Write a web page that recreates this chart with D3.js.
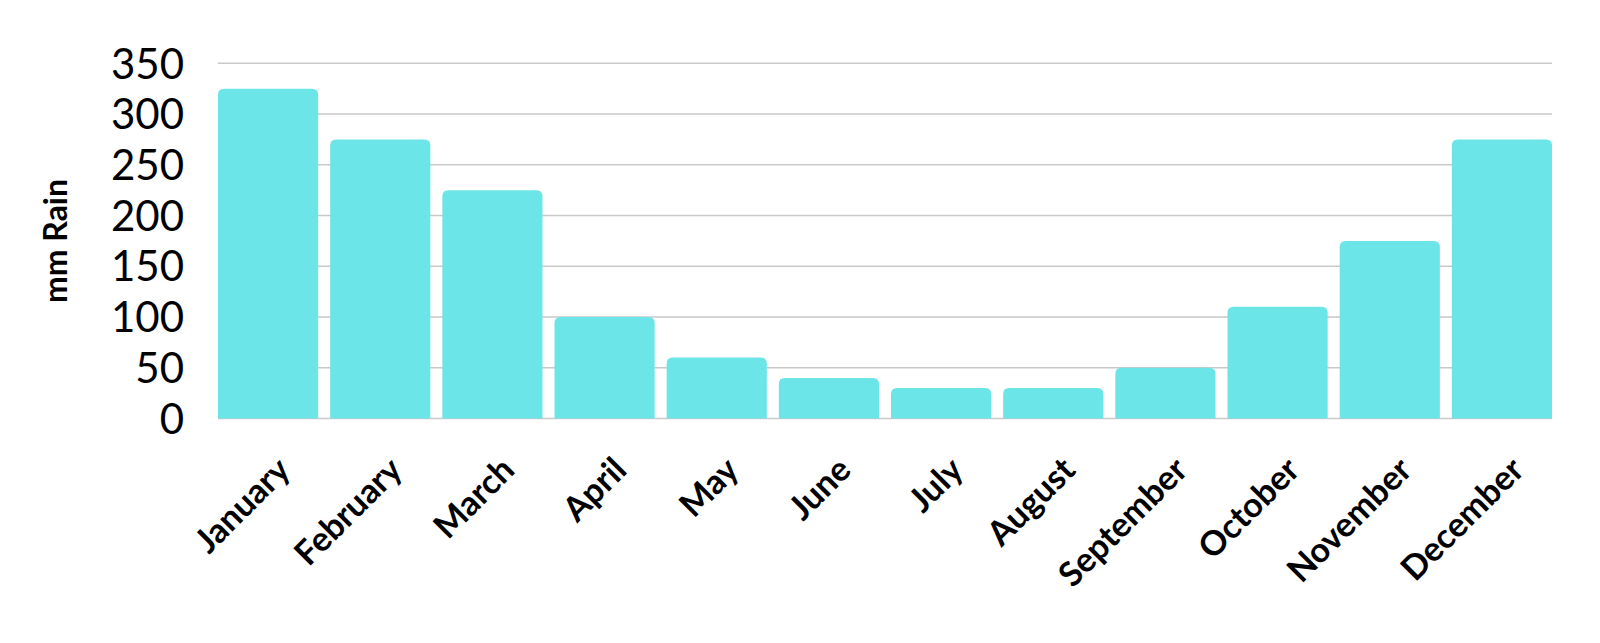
<!DOCTYPE html>
<html><head><meta charset="utf-8">
<script src="https://cdn.jsdelivr.net/npm/d3@7"></script>
<style>
html,body{margin:0;padding:0;background:#fff;}
text{font-family:"Lato","Open Sans",sans-serif;fill:#000;}
</style></head>
<body>
<svg id="chart" width="1600" height="643"></svg>
<script>
const categories = ["January","February","March","April","May","June","July","August","September","October","November","December"];
const rainfall = [325,275,225,100,60,40,30,30,50,110,175,275];
const yTicks = [0,50,100,150,200,250,300,350];
const yTitle = "mm Rain";

(function () {
const svg = d3.select("#chart");
const plotLeft = 218, plotRight = 1552, plotTop = 63.3, plotBottom = 418.5;

const x = d3.scaleBand().domain(categories).range([plotLeft, plotRight]).paddingInner(0.107).paddingOuter(0);
const y = d3.scaleLinear().domain([0, 350]).range([plotBottom, plotTop]);

// gridlines
svg.append("g").selectAll("line").data(yTicks).join("line")
  .attr("x1", plotLeft).attr("x2", plotRight)
  .attr("y1", d => y(d)).attr("y2", d => y(d))
  .attr("stroke", "#c9c9c9").attr("stroke-width", 1.5);

// bars with rounded top corners
const r = 6;
svg.append("g").selectAll("path").data(categories).join("path")
  .attr("fill", "#6ce5e8")
  .attr("d", (c, i) => {
    const x0 = x(c), w = x.bandwidth(), yt = y(rainfall[i]), yb = y(0);
    return `M${x0},${yb}V${yt + r}Q${x0},${yt} ${x0 + r},${yt}H${x0 + w - r}Q${x0 + w},${yt} ${x0 + w},${yt + r}V${yb}Z`;
  });

// y axis labels
const yAxis = d3.axisLeft(y).tickValues(yTicks).tickSize(0).tickPadding(0);
const gy = svg.append("g").attr("transform", `translate(184,0)`).call(yAxis);
gy.select(".domain").remove();
gy.selectAll("text").attr("font-size", 42).attr("font-family", "Lato, sans-serif").attr("fill", "#000").attr("dy", "0.35em");

// x axis labels
const xAxis = d3.axisBottom(x).tickSize(0).tickPadding(0);
const gx = svg.append("g").call(xAxis);
gx.select(".domain").remove();
gx.selectAll(".tick").attr("transform", d => `translate(${x(d) + x.bandwidth() / 2 + 24},472)`);
gx.selectAll("text")
  .attr("font-size", 34).attr("font-weight", "bold").attr("font-family", "Lato, sans-serif").attr("fill", "#000")
  .attr("y", 0).attr("dy", 0).attr("x", 0)
  .attr("text-anchor", "end")
  .attr("transform", "rotate(-45)");

// y title
svg.append("text")
  .attr("transform", "translate(67,241) rotate(-90)")
  .attr("text-anchor", "middle")
  .attr("font-size", 32).attr("font-weight", "bold")
  .text(yTitle);
})();
</script>
</body></html>
